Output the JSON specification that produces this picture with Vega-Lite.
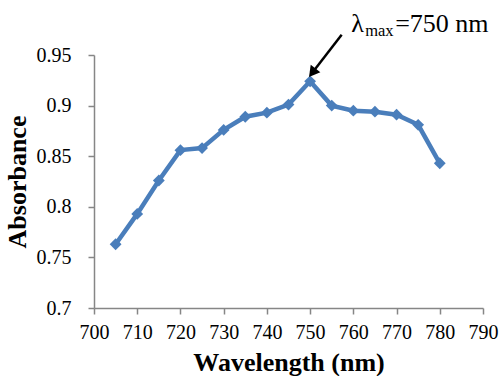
{
  "$schema": "https://vega.github.io/schema/vega-lite/v6.json",
  "width": 389,
  "height": 253,
  "autosize": "none",
  "padding": {"left": 94, "top": 55, "right": 17, "bottom": 68},
  "background": "white",
  "config": {"view": {"stroke": null}, "font": "Times New Roman, Liberation Serif, serif"},
  "datasets": {
    "spectrum": [
      {"wavelength": 705, "absorbance": 0.763},
      {"wavelength": 710, "absorbance": 0.793},
      {"wavelength": 715, "absorbance": 0.826},
      {"wavelength": 720, "absorbance": 0.856},
      {"wavelength": 725, "absorbance": 0.858},
      {"wavelength": 730, "absorbance": 0.876},
      {"wavelength": 735, "absorbance": 0.889},
      {"wavelength": 740, "absorbance": 0.893},
      {"wavelength": 745, "absorbance": 0.901},
      {"wavelength": 750, "absorbance": 0.924},
      {"wavelength": 755, "absorbance": 0.900},
      {"wavelength": 760, "absorbance": 0.895},
      {"wavelength": 765, "absorbance": 0.894},
      {"wavelength": 770, "absorbance": 0.891},
      {"wavelength": 775, "absorbance": 0.881},
      {"wavelength": 780, "absorbance": 0.843}
    ],
    "arrow": [
      {"x1": 757.3, "y1": 0.970, "x2": 750.5, "y2": 0.9325}
    ],
    "label": [
      {"x": 759.5, "y": 0.973}
    ]
  },
  "layer": [
    {
      "data": {"name": "spectrum"},
      "mark": {"type": "line", "color": "#4A7EBB", "strokeWidth": 4.5, "point": {"shape": "diamond", "size": 140, "filled": true, "color": "#4A7EBB", "opacity": 1}},
      "encoding": {
        "x": {
          "field": "wavelength", "type": "quantitative",
          "scale": {"domain": [700, 790], "nice": false, "zero": false},
          "axis": {
            "values": [700, 710, 720, 730, 740, 750, 760, 770, 780, 790],
            "labelOverlap": false, "labelFlush": false,
            "title": "Wavelength (nm)", "grid": false,
            "domainColor": "#868686", "tickColor": "#868686", "tickSize": 6, "domainWidth": 1.5, "tickWidth": 1.5,
            "labelFont": "Times New Roman, Liberation Serif, serif", "labelFontSize": 20, "labelColor": "black", "labelPadding": 8,
            "titleFont": "Times New Roman, Liberation Serif, serif", "titleFontSize": 26, "titleFontWeight": "bold", "titleColor": "black", "titlePadding": 7
          }
        },
        "y": {
          "field": "absorbance", "type": "quantitative",
          "scale": {"domain": [0.7, 0.95], "nice": false, "zero": false},
          "axis": {
            "values": [0.7, 0.75, 0.8, 0.85, 0.9, 0.95],
            "format": ".2~f",
            "labelOverlap": false, "labelFlush": false,
            "title": "Absorbance", "grid": false,
            "domainColor": "#868686", "tickColor": "#868686", "tickSize": 6, "domainWidth": 1.5, "tickWidth": 1.5,
            "labelFont": "Times New Roman, Liberation Serif, serif", "labelFontSize": 20, "labelColor": "black", "labelPadding": 17,
            "titleFont": "Times New Roman, Liberation Serif, serif", "titleFontSize": 26, "titleFontWeight": "bold", "titleColor": "black", "titlePadding": 6
          }
        }
      }
    },
    {
      "data": {"name": "arrow"},
      "mark": {"type": "rule", "color": "black", "strokeWidth": 2.5, "clip": false},
      "encoding": {
        "x": {"field": "x1", "type": "quantitative"},
        "y": {"field": "y1", "type": "quantitative"},
        "x2": {"field": "x2"},
        "y2": {"field": "y2"}
      }
    },
    {
      "data": {"name": "arrow"},
      "mark": {"type": "point", "shape": "triangle-up", "filled": true, "color": "black", "opacity": 1, "size": 150, "angle": 218, "clip": false},
      "encoding": {
        "x": {"field": "x2", "type": "quantitative"},
        "y": {"field": "y2", "type": "quantitative"}
      }
    },
    {
      "data": {"name": "label"},
      "mark": {"type": "text", "text": "λ", "font": "Times New Roman, Liberation Serif, serif", "fontSize": 26, "align": "left", "baseline": "alphabetic", "color": "black", "clip": false},
      "encoding": {
        "x": {"field": "x", "type": "quantitative"},
        "y": {"field": "y", "type": "quantitative"}
      }
    },
    {
      "data": {"name": "label"},
      "mark": {"type": "text", "text": "max", "font": "Times New Roman, Liberation Serif, serif", "fontSize": 16.5, "align": "left", "baseline": "alphabetic", "color": "black", "dx": 14, "dy": 4, "clip": false},
      "encoding": {
        "x": {"field": "x", "type": "quantitative"},
        "y": {"field": "y", "type": "quantitative"}
      }
    },
    {
      "data": {"name": "label"},
      "mark": {"type": "text", "text": "=750 nm", "font": "Times New Roman, Liberation Serif, serif", "fontSize": 26, "align": "left", "baseline": "alphabetic", "color": "black", "dx": 44, "clip": false},
      "encoding": {
        "x": {"field": "x", "type": "quantitative"},
        "y": {"field": "y", "type": "quantitative"}
      }
    }
  ]
}
